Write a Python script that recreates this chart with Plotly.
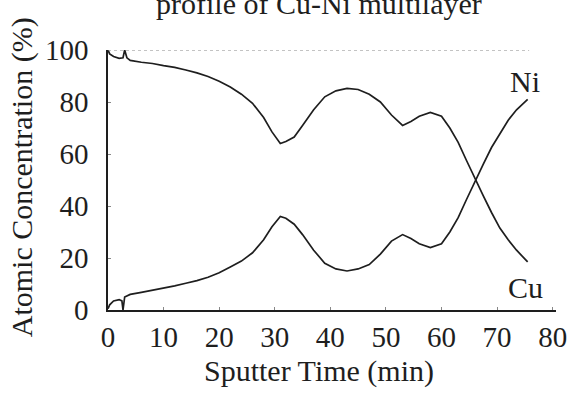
import plotly.graph_objects as go

# Top curve (starts at 100 %, labelled Cu at its end)
t_cu = [0, 0.3, 1, 2, 2.7, 3.0, 3.4, 4, 6, 8, 10, 12, 14, 16, 18, 20, 22, 24, 26, 28,
        29.5, 31, 32, 33.5, 35, 37, 39, 41, 43, 45, 47, 49, 51, 53, 54.5, 56, 58, 60,
        61.5, 63, 64.5, 66, 67.5, 69, 70.5, 72, 73.5, 75.5]
cu = [100, 98.5, 97.5, 96.8, 97, 100, 97, 96, 95.3, 94.8, 94, 93.3, 92.3, 91.2, 89.8, 88,
      85.8, 83, 79.5, 74, 68.5, 64, 64.8, 66.5, 71, 77, 82, 84.3, 85.2, 84.8, 83, 80, 75,
      71, 72.5, 74.5, 76, 74.5, 70, 64.5, 57.5, 50.5, 44, 37.5, 31.5, 27, 23, 18.5]

# Bottom curve (starts at 0 %, labelled Ni at its end)
t_ni = [0, 0.3, 1, 2, 2.5, 2.7, 3.0, 3.4, 4, 6, 8, 10, 12, 14, 16, 18, 20, 22, 24, 26, 28,
        29.5, 31, 32, 33.5, 35, 37, 39, 41, 43, 45, 47, 49, 51, 53, 54.5, 56, 58, 60,
        61.5, 63, 64.5, 66, 67.5, 69, 70.5, 72, 73.5, 75.5]
ni = [0.5, 2, 3.5, 4, 3.5, 0, 5, 5.5, 6, 6.8, 7.6, 8.4, 9.3, 10.3, 11.3, 12.6, 14.3, 16.5,
      18.8, 22, 27, 32, 36, 35.3, 33, 29, 23, 18, 15.8, 15, 15.8, 17.5, 21.5, 26.5, 29,
      27.5, 25.5, 24, 25.5, 30, 35.5, 42.5, 49.5, 56, 62.5, 68, 73, 77, 81]

x_ticks = [0, 10, 20, 30, 40, 50, 60, 70, 80]
y_ticks = [0, 20, 40, 60, 80, 100]

FONT = "Liberation Serif"
INK = "#1e1e1e"

fig = go.Figure()
fig.add_trace(go.Scatter(x=t_cu, y=cu, mode="lines", name="Cu",
                         line=dict(color=INK, width=1.7)))
fig.add_trace(go.Scatter(x=t_ni, y=ni, mode="lines", name="Ni",
                         line=dict(color=INK, width=1.7)))

fig.update_layout(
    width=579, height=393,
    margin=dict(l=108, r=17, t=50, b=83),
    paper_bgcolor="white", plot_bgcolor="white",
    showlegend=False,
    font=dict(family=FONT, color=INK, size=29),
    xaxis=dict(range=[0, 80.6], tickvals=x_ticks, showgrid=False, zeroline=False,
               showline=True, linecolor=INK, linewidth=1.5, ticks="inside",
               ticklen=3, tickcolor="#888", tickfont=dict(size=29, family=FONT)),
    yaxis=dict(range=[0, 100], tickvals=y_ticks, showgrid=False, zeroline=False,
               showline=True, linecolor=INK, linewidth=1.5, ticks="inside",
               ticklen=3, tickcolor="#888", ticklabelstandoff=12,
               tickfont=dict(size=29, family=FONT)),
    shapes=[dict(type="line", xref="paper", yref="y", x0=0, x1=0.94, y0=100, y1=100,
                 line=dict(color="#888", width=1.2, dash="dot"))],
    annotations=[
        dict(text="profile of Cu-Ni multilayer", xref="paper", yref="paper",
             x=0.47, y=1.106, xanchor="center", yanchor="bottom", showarrow=False,
             font=dict(size=30, family=FONT, color=INK)),
        dict(text="Sputter Time (min)", xref="paper", yref="paper",
             x=0.47, y=-0.235, xanchor="center", yanchor="middle", showarrow=False,
             font=dict(size=30, family=FONT, color=INK)),
        dict(text="Atomic Concentration (%)", xref="paper", yref="paper",
             x=-0.19, y=0.51, xanchor="center", yanchor="middle", showarrow=False,
             textangle=-90, font=dict(size=30, family=FONT, color=INK)),
        dict(text="Ni", x=75.0, y=87.7, xref="x", yref="y", showarrow=False,
             xanchor="center", yanchor="middle", font=dict(size=30, family=FONT, color=INK)),
        dict(text="Cu", x=75.2, y=8.8, xref="x", yref="y", showarrow=False,
             xanchor="center", yanchor="middle", font=dict(size=30, family=FONT, color=INK)),
    ],
)

fig.write_html("out.html")
